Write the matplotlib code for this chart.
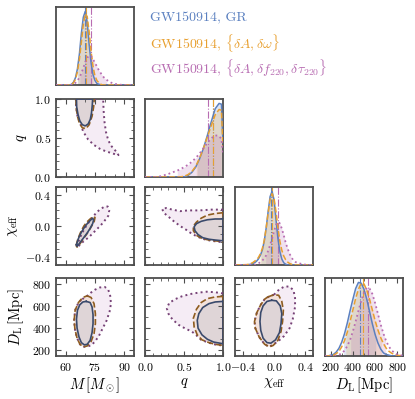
import numpy as np
import matplotlib
matplotlib.use("Agg")
import matplotlib.pyplot as plt
from matplotlib.ticker import AutoMinorLocator, FixedLocator

plt.rcParams['font.family'] = ['cmr10', 'DejaVu Serif']
plt.rcParams['mathtext.fontset'] = 'cm'
plt.rcParams['axes.formatter.use_mathtext'] = True

# ---------------- data ----------------
labels = ["GW150914, GR",
          r"GW150914, $\{\delta A, \delta\omega\}$",
          r"GW150914, $\{\delta A, \delta f_{220}, \delta\tau_{220}\}$"]
colors = ["#5b80c0", "#e8a030", "#b86db2"]
dark_colors = ["#3a4a6c", "#8e5c20", "#764276"]
line_styles = ["-", "--", ":"]

param_labels = [r"$M\,[M_\odot]$", r"$q$", r"$\chi_{\rm eff}$", r"$D_{\rm L}\,[{\rm Mpc}]$"]
param_ranges = [(55, 95), (0.0, 1.0), (-0.5, 0.5), (150, 850)]
param_ticks = [[60, 75, 90], [0.0, 0.5, 1.0], [-0.4, 0.0, 0.4], [200, 400, 600, 800]]
param_ticklabels = [["$60$", "$75$", "$90$"], ["$0.0$", "$0.5$", "$1.0$"],
                    ["$-0.4$", "$0.0$", "$0.4$"], ["$200$", "$400$", "$600$", "$800$"]]
param_minor = [3, 5, 4, 2]

# 1D marginal densities (grid, [GR, dAdw, dAdfdt])
M_grid = [55, 62, 63, 64, 65, 66, 67, 68, 69, 70, 71, 72, 73, 74, 75, 76, 77, 78, 79, 80,
          81, 82, 83, 84, 85, 86, 87, 88, 89, 90, 91, 95]
M_gr = [0, 0, 0.01, 0.04, 0.10, 0.22, 0.42, 0.70, 0.92, 1.00, 0.85, 0.55, 0.30, 0.14, 0.06, 0.02,
        0.01, 0, 0, 0, 0, 0, 0, 0, 0, 0, 0, 0, 0, 0, 0, 0]
M_dw = [0, 0, 0.01, 0.03, 0.08, 0.18, 0.35, 0.58, 0.82, 0.97, 0.93, 0.72, 0.45, 0.25, 0.12, 0.06,
        0.03, 0.01, 0, 0, 0, 0, 0, 0, 0, 0, 0, 0, 0, 0, 0, 0]
M_df = [0, 0, 0.0, 0.01, 0.03, 0.06, 0.10, 0.16, 0.23, 0.31, 0.37, 0.40, 0.39, 0.35, 0.30, 0.25,
        0.20, 0.16, 0.12, 0.09, 0.07, 0.05, 0.035, 0.025, 0.017, 0.011, 0.007, 0.004, 0.002,
        0.001, 0, 0]

q_grid = [0.0, 0.15, 0.2, 0.25, 0.3, 0.35, 0.4, 0.45, 0.5, 0.55, 0.6, 0.65, 0.7, 0.75, 0.8,
          0.85, 0.9, 0.95, 0.98, 1.0]
q_gr = [0, 0, 0, 0, 0, 0, 0, 0, 0.0, 0.02, 0.06, 0.13, 0.24, 0.38, 0.55, 0.73, 0.90, 0.97,
        0.96, 0.45]
q_dw = [0, 0, 0, 0, 0, 0, 0, 0, 0.01, 0.03, 0.07, 0.14, 0.25, 0.38, 0.53, 0.68, 0.82, 0.89,
        0.88, 0.40]
q_df = [0, 0.0, 0.01, 0.025, 0.04, 0.06, 0.08, 0.10, 0.13, 0.16, 0.20, 0.25, 0.31, 0.38, 0.45,
        0.51, 0.55, 0.54, 0.50, 0.30]

chi_grid = [-0.5, -0.35, -0.325, -0.3, -0.275, -0.25, -0.225, -0.2, -0.175, -0.15, -0.125,
            -0.1, -0.075, -0.05, -0.025, 0.0, 0.025, 0.05, 0.075, 0.1, 0.125, 0.15, 0.175,
            0.2, 0.225, 0.25, 0.275, 0.3, 0.35, 0.4, 0.45, 0.5]
chi_gr = [0, 0.0, 0.005, 0.01, 0.02, 0.03, 0.05, 0.08, 0.13, 0.20, 0.32, 0.50, 0.72, 0.92,
          0.99, 0.88, 0.62, 0.36, 0.18, 0.08, 0.03, 0.01, 0.0, 0, 0, 0, 0, 0, 0, 0, 0, 0]
chi_dw = [0, 0.005, 0.01, 0.02, 0.03, 0.05, 0.07, 0.10, 0.15, 0.22, 0.33, 0.50, 0.70, 0.88,
          0.96, 0.90, 0.72, 0.50, 0.32, 0.20, 0.12, 0.07, 0.04, 0.02, 0.01, 0.005, 0, 0, 0, 0,
          0, 0]
chi_df = [0, 0, 0, 0, 0, 0.0, 0.01, 0.02, 0.04, 0.06, 0.09, 0.13, 0.19, 0.27, 0.36, 0.45,
          0.54, 0.58, 0.56, 0.49, 0.40, 0.30, 0.22, 0.15, 0.10, 0.06, 0.04, 0.03, 0.015, 0.005,
          0, 0]

DL_grid = [150, 175, 200, 225, 250, 275, 300, 325, 350, 375, 400, 425, 450, 475, 500, 525,
           550, 575, 600, 625, 650, 675, 700, 725, 750, 775, 800, 825, 850]
DL_gr = [0, 0, 0.01, 0.02, 0.05, 0.10, 0.18, 0.29, 0.43, 0.59, 0.74, 0.88, 0.96, 0.95, 0.87,
         0.74, 0.58, 0.42, 0.28, 0.17, 0.09, 0.04, 0.02, 0.01, 0, 0, 0, 0, 0]
DL_dw = [0, 0, 0.005, 0.01, 0.03, 0.06, 0.12, 0.20, 0.31, 0.45, 0.60, 0.75, 0.87, 0.95, 0.94,
         0.86, 0.74, 0.60, 0.46, 0.34, 0.24, 0.16, 0.10, 0.06, 0.035, 0.02, 0.01, 0.005, 0]
DL_df = [0, 0, 0, 0, 0.005, 0.015, 0.035, 0.07, 0.13, 0.21, 0.32, 0.45, 0.59, 0.72, 0.83,
         0.89, 0.88, 0.81, 0.69, 0.55, 0.41, 0.29, 0.19, 0.12, 0.07, 0.04, 0.02, 0.01, 0.005]

marg_grids = [M_grid, q_grid, chi_grid, DL_grid]
marginals = [[M_gr, M_dw, M_df], [q_gr, q_dw, q_df], [chi_gr, chi_dw, chi_df],
             [DL_gr, DL_dw, DL_df]]

# 90% credible contours: key (col param, row param) -> [GR, dAdw, dAdfdt] lists of (x, y)
contours = {
    (0, 1): [
        [(65.5, 1.0), (65.6, 0.9), (66.3, 0.8), (67.2, 0.72), (68.5, 0.67), (70, 0.655),
         (71.5, 0.68), (72.6, 0.74), (73.2, 0.82), (73.6, 0.92), (73.8, 1.0)],
        [(65.2, 1.0), (65.3, 0.9), (66, 0.78), (67, 0.69), (68.5, 0.63), (70.3, 0.62),
         (72, 0.67), (73.5, 0.78), (74.3, 0.9), (74.6, 1.0)],
        [(65.2, 1.0), (65.3, 0.9), (66, 0.78), (67.5, 0.68), (69, 0.58), (71.5, 0.48),
         (74.5, 0.41), (77.6, 0.36), (80.5, 0.33), (83, 0.31), (85.5, 0.29), (87, 0.28),
         (86.5, 0.31), (85, 0.35), (83.3, 0.4), (81.8, 0.47), (80.6, 0.58), (79.9, 0.7),
         (79.5, 0.82), (79.3, 0.92), (79.2, 1.0)],
    ],
    (0, 2): [
        [(65.5, -0.24), (66.5, -0.16), (68, -0.08), (69.5, -0.02), (71, 0.03), (72.5, 0.07),
         (73.8, 0.1), (74.3, 0.08), (73.8, 0.03), (72.5, -0.03), (71, -0.09), (69.5, -0.14),
         (68, -0.19), (66.5, -0.24), (65.8, -0.26)],
        [(65.3, -0.25), (66.3, -0.16), (67.8, -0.07), (69.3, 0.0), (70.8, 0.05), (72.5, 0.09),
         (74, 0.12), (75, 0.11), (74.6, 0.06), (73.3, 0.0), (71.7, -0.07), (70, -0.13),
         (68.3, -0.19), (66.7, -0.25), (65.8, -0.27)],
        [(65.5, -0.26), (66.5, -0.2), (68, -0.11), (69.5, -0.04), (71, 0.02), (72.5, 0.07),
         (74, 0.12), (76, 0.18), (78, 0.22), (80, 0.25), (81.5, 0.25), (82.3, 0.2),
         (81.8, 0.13), (80, 0.07), (78, 0.01), (76, -0.04), (74, -0.09), (72, -0.14),
         (70, -0.18), (68, -0.22), (66.5, -0.26), (65.8, -0.27)],
    ],
    (0, 3): [
        [(70.5, 640), (72.5, 630), (73.5, 590), (74, 520), (74, 440), (73.5, 360), (72.5, 290),
         (71, 255), (69.5, 250), (68, 270), (66.8, 320), (65.8, 400), (65.5, 480), (66, 560),
         (67.2, 610), (68.8, 635)],
        [(71, 690), (73, 675), (74.5, 620), (75.2, 530), (75.2, 440), (74.5, 350), (73, 280),
         (71, 240), (69, 232), (67.3, 255), (65.8, 310), (64.7, 390), (64.3, 470), (64.8, 560),
         (66.5, 630), (68.7, 675)],
        [(68.5, 660), (71, 690), (73, 720), (75, 745), (77.5, 765), (80, 770), (81.8, 745),
         (82.8, 690), (83.2, 620), (82.5, 550), (81, 470), (79, 400), (77, 330), (75, 280),
         (73, 245), (71, 235), (69, 232), (67.3, 255), (65.8, 310), (64.7, 390), (64.3, 470),
         (64.8, 560), (66.5, 630)],
    ],
    (1, 2): [
        [(1.0, 0.09), (0.9, 0.09), (0.8, 0.08), (0.72, 0.06), (0.66, 0.03), (0.63, -0.01),
         (0.64, -0.06), (0.68, -0.11), (0.74, -0.15), (0.82, -0.17), (0.9, -0.18), (1.0, -0.19)],
        [(1.0, 0.17), (0.9, 0.16), (0.8, 0.14), (0.72, 0.1), (0.66, 0.05), (0.62, 0.0),
         (0.62, -0.06), (0.66, -0.12), (0.73, -0.16), (0.82, -0.18), (0.9, -0.19), (1.0, -0.2)],
        [(1.0, 0.21), (0.85, 0.21), (0.7, 0.2), (0.55, 0.2), (0.45, 0.19), (0.35, 0.21),
         (0.27, 0.23), (0.22, 0.22), (0.24, 0.17), (0.3, 0.12), (0.37, 0.06), (0.45, 0.0),
         (0.53, -0.05), (0.6, -0.1), (0.68, -0.14), (0.76, -0.17), (0.85, -0.19), (0.93, -0.2),
         (1.0, -0.21)],
    ],
    (1, 3): [
        [(1.0, 640), (0.9, 635), (0.82, 620), (0.74, 585), (0.69, 530), (0.67, 470), (0.68, 400),
         (0.73, 340), (0.8, 300), (0.88, 275), (1.0, 260)],
        [(1.0, 685), (0.9, 680), (0.8, 665), (0.72, 630), (0.66, 570), (0.62, 490), (0.63, 410),
         (0.67, 340), (0.73, 295), (0.82, 270), (0.9, 255), (1.0, 245)],
        [(1.0, 712), (0.9, 722), (0.79, 727), (0.68, 718), (0.58, 706), (0.47, 685), (0.38, 658),
         (0.31, 625), (0.28, 577), (0.3, 530), (0.35, 480), (0.43, 430), (0.52, 395), (0.6, 370),
         (0.66, 335), (0.72, 295), (0.82, 268), (0.9, 253), (1.0, 243)],
    ],
    (2, 3): [
        [(-0.03, 650), (0.03, 645), (0.08, 600), (0.1, 530), (0.09, 440), (0.07, 360),
         (0.02, 295), (-0.04, 265), (-0.09, 270), (-0.14, 310), (-0.17, 380), (-0.18, 460),
         (-0.17, 540), (-0.14, 600), (-0.09, 640)],
        [(-0.08, 680), (0.0, 700), (0.06, 695), (0.1, 640), (0.12, 560), (0.11, 460),
         (0.09, 370), (0.05, 290), (-0.01, 245), (-0.06, 232), (-0.12, 255), (-0.19, 320),
         (-0.24, 400), (-0.25, 460), (-0.22, 540), (-0.17, 610), (-0.12, 660)],
        [(0.0, 700), (0.07, 750), (0.14, 775), (0.2, 772), (0.25, 740), (0.27, 670),
         (0.27, 590), (0.24, 480), (0.2, 400), (0.13, 330), (0.05, 280), (-0.02, 250),
         (-0.06, 232), (-0.12, 255), (-0.19, 320), (-0.24, 400), (-0.25, 460), (-0.22, 540),
         (-0.17, 610), (-0.12, 660), (-0.06, 685)],
    ],
}

# ---------------- layout ----------------
W, H = 415, 399
fig = plt.figure(figsize=(W / 100, H / 100), dpi=100)
col_left = [56, 145, 235, 325]
row_top = [7, 99, 187, 278]
size = 78
spine_col = "0.3"


def make_ax(i, j):
    ax = fig.add_axes([col_left[j] / W, 1 - (row_top[i] + size) / H, size / W, size / H])
    for s in ax.spines.values():
        s.set_color(spine_col)
        s.set_linewidth(1.3)
    return ax


def quantile(grid, dens, p):
    g = np.asarray(grid, float)
    d = np.asarray(dens, float)
    c = np.concatenate([[0], np.cumsum(0.5 * (d[1:] + d[:-1]) * np.diff(g))])
    c = c / c[-1]
    return np.interp(p, c, g)


for i in range(4):
    for j in range(i + 1):
        ax = make_ax(i, j)
        ax.set_xlim(*param_ranges[j])
        if i == j:
            g = np.asarray(marg_grids[i], float)
            ymax = 0
            for k in range(3):
                d = np.asarray(marginals[i][k], float)
                ymax = max(ymax, d.max())
                lo, med, hi = quantile(g, d, [0.05, 0.5, 0.95])
                m = (g > lo) & (g < hi)
                xs = np.concatenate([[lo], g[m], [hi]])
                ys = np.concatenate([[np.interp(lo, g, d)], d[m], [np.interp(hi, g, d)]])
                ax.fill_between(xs, 0, ys, color=colors[k], alpha=0.2, lw=0)
                ax.plot(g, d, color=colors[k], ls=line_styles[k],
                        lw=1.1 if k < 2 else 1.3, zorder=3)
                ax.axvline(med, color=colors[k], ls='-.', lw=0.8, zorder=2)
            ax.set_ylim(0, ymax * 1.06)
            ax.set_yticks([])
            if i == 3:
                ax.xaxis.set_major_locator(FixedLocator(param_ticks[i]))
                ax.xaxis.set_minor_locator(AutoMinorLocator(param_minor[i]))
                ax.set_xticklabels(param_ticklabels[i])
                ax.tick_params(axis='x', which='both', direction='in', top=True,
                               bottom=True, labelsize=8.5, color=spine_col)
                ax.tick_params(axis='x', which='major', length=3.5, width=0.8)
                ax.tick_params(axis='x', which='minor', length=2, width=0.6)
            else:
                ax.set_xticks([])
        else:
            ax.set_ylim(*param_ranges[i])
            for k in [2, 1, 0]:
                pts = np.asarray(contours[(j, i)][k], float)
                ax.fill(pts[:, 0], pts[:, 1], color=colors[k], alpha=0.13, lw=0, zorder=1)
            for k in [2, 1, 0]:
                pts = np.asarray(contours[(j, i)][k], float)
                xs = np.append(pts[:, 0], pts[0, 0])
                ys = np.append(pts[:, 1], pts[0, 1])
                ax.plot(xs, ys, color=dark_colors[k], ls=line_styles[k],
                        lw=1.2 if k < 2 else 1.4, zorder=3 + (2 - k))
            ax.xaxis.set_major_locator(FixedLocator(param_ticks[j]))
            ax.xaxis.set_minor_locator(AutoMinorLocator(param_minor[j]))
            ax.yaxis.set_major_locator(FixedLocator(param_ticks[i]))
            ax.yaxis.set_minor_locator(AutoMinorLocator(param_minor[i]))
            ax.tick_params(which='both', direction='in', top=True, right=True,
                           labelsize=8.5, color=spine_col)
            ax.tick_params(which='major', length=3.5, width=0.8)
            ax.tick_params(which='minor', length=2, width=0.6)
            if j == 0:
                ax.set_yticklabels(param_ticklabels[i])
                ax.set_ylabel(param_labels[i], fontsize=10.5, labelpad=4)
            else:
                ax.set_yticklabels([])
            if i == 3:
                ax.set_xticklabels(param_ticklabels[j])
            else:
                ax.set_xticklabels([])
        if i == 3:
            ax.set_xlabel(param_labels[j], fontsize=10.5, labelpad=2)

for k in range(3):
    fig.text(150 / W, 1 - (18 + 25 * k) / H, labels[k], color=colors[k], fontsize=10,
             va='center', ha='left')

fig.savefig("out.png", dpi=100)
